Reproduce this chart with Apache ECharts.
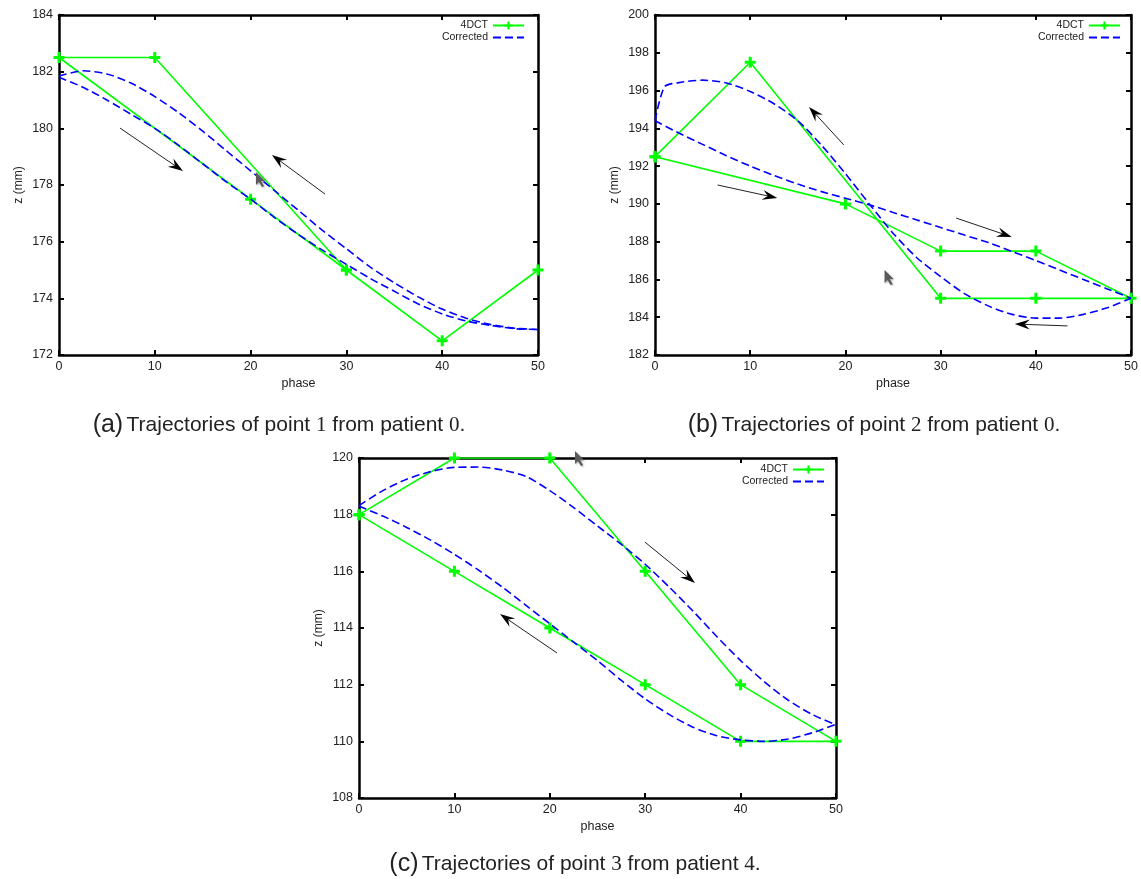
<!DOCTYPE html>
<html>
<head>
<meta charset="utf-8">
<script src="https://cdn.jsdelivr.net/npm/echarts@6/dist/echarts.min.js"></script>
<style>
  html, body { margin: 0; padding: 0; background: #fff; }
  #chart { width: 1141px; height: 879px; }
</style>
</head>
<body>
<div id="chart"></div>
<script>
// Phase samples used by the corrected (smooth) trajectories
const gridPhase = [0, 2.5, 5, 7.5, 10, 12.5, 15, 17.5, 20, 22.5, 25, 27.5, 30, 32.5, 35, 37.5, 40, 42.5, 45, 47.5, 50];

// (a) point 1, patient 0
const aScanPhase = [50, 40, 30, 20, 0, 10, 30];
const aScanZ     = [175, 172.5, 175, 177.5, 182.5, 182.5, 175];
const aCorrUpper = [181.85, 182.03, 181.92, 181.6, 181.12, 180.55, 179.9, 179.2, 178.5, 177.8, 177.1, 176.4, 175.75, 175.1, 174.55, 174.05, 173.62, 173.3, 173.08, 172.95, 172.9];
const aCorrLower = [181.8, 181.45, 181.0, 180.5, 180.0, 179.4, 178.75, 178.1, 177.5, 176.85, 176.25, 175.7, 175.2, 174.7, 174.25, 173.8, 173.45, 173.2, 173.05, 172.93, 172.9];

// (b) point 2, patient 0
const bScanPhase = [0, 10, 30, 40, 50, 40, 30, 20, 0];
const bScanZ     = [192.5, 197.5, 185, 185, 185, 187.5, 187.5, 190, 192.5];
const bUpperPhase = [0, 1, 2.5, 5, 7.5, 10, 12.5, 15, 17.5, 20, 22.5, 25, 27.5, 30, 32.5, 35, 37.5, 40, 42.5, 45, 47.5, 50];
const bCorrUpper = [194.4, 196.2, 196.42, 196.55, 196.4, 195.95, 195.3, 194.4, 193.1, 191.6, 190.0, 188.45, 187.15, 186.15, 185.25, 184.6, 184.15, 183.95, 183.95, 184.15, 184.5, 185.0];
const bCorrLower = [194.4, 193.75, 193.15, 192.55, 192.0, 191.5, 191.05, 190.65, 190.3, 189.95, 189.55, 189.15, 188.75, 188.35, 187.95, 187.48, 187.0, 186.5, 186.0, 185.5, 185.0];

// (c) point 3, patient 4
const cScanPhase = [0, 10, 20, 30, 40, 50, 40, 30, 20, 10, 0];
const cScanZ     = [118, 120, 120, 116, 112, 110, 110, 112, 114, 116, 118];
const cCorrUpper = [118.32, 118.85, 119.25, 119.52, 119.67, 119.68, 119.58, 119.35, 118.85, 118.25, 117.6, 116.95, 116.25, 115.45, 114.6, 113.7, 112.85, 112.1, 111.45, 110.95, 110.58];
const cCorrLower = [118.3, 117.95, 117.55, 117.1, 116.6, 116.05, 115.45, 114.8, 114.15, 113.5, 112.85, 112.15, 111.5, 110.95, 110.5, 110.2, 110.05, 110.0, 110.08, 110.3, 110.6];

// Axis ranges
const phaseRange = [0, 50];
const aZRange = [172, 184];
const bZRange = [182, 200];
const cZRange = [108, 120];

// Direction-of-motion arrows, [phase, z] tail then head
const aArrows = [[[6.37, 180.01], [12.94, 178.49]], [[27.77, 177.68], [22.23, 179.06]]];
const bArrows = [[[19.83, 193.12], [16.18, 195.13]], [[6.58, 191.0], [12.84, 190.31]],
                 [[31.63, 189.25], [37.47, 188.25]], [[43.32, 183.54], [37.79, 183.64]]];
const cArrows = [[[29.98, 117.03], [35.22, 115.59]], [[20.75, 113.12], [14.78, 114.49]]];
// Pointer glyphs
const cursors = [[20.56, 178.46], [24.11, 186.5], [22.64, 120.25]];

const captions = [
  { key: 'a', point: '1', patient: '0', x: 279, y: 425 },
  { key: 'b', point: '2', patient: '0', x: 874, y: 425 },
  { key: 'c', point: '3', patient: '4', x: 575, y: 864 }
];

const FONT = 'Liberation Sans, Arial, Helvetica, sans-serif';
const GREEN = '#00ff00';
const BLUE = '#0000ff';
const plusSymbol = 'path://M4,0H7V4H11V7H7V11H4V7H0V4H4Z';

const grids = [
  { left: 59,  top: 15,  width: 479, height: 340 },
  { left: 655, top: 15,  width: 479, height: 340 },
  { left: 359, top: 458, width: 477, height: 340 }
];
const zRanges = [aZRange, bZRange, cZRange];

const zip = (xs, ys) => xs.map((x, i) => [x, ys[i]]);

const lineStyleAxis = { color: '#000', width: 2.5 };
const tickStyle = { show: true, inside: true, length: 5, lineStyle: { color: '#000', width: 2 } };

const xAxes = [], yAxes = [];
grids.forEach((g, gi) => {
  const base = {
    gridIndex: gi, type: 'value', min: phaseRange[0], max: phaseRange[1], interval: 10,
    axisLine: { show: true, onZero: false, lineStyle: lineStyleAxis },
    axisTick: tickStyle, splitLine: { show: false }
  };
  xAxes.push(Object.assign({}, base, {
    position: 'bottom',
    axisLabel: { color: '#222', fontSize: 12.5, fontFamily: FONT, margin: 5 },
    name: 'phase', nameLocation: 'middle', nameGap: 22,
    nameTextStyle: { color: '#222', fontSize: 12.5, fontFamily: FONT }
  }));
  xAxes.push(Object.assign({}, base, { position: 'top', axisLabel: { show: false } }));
  const ybase = {
    gridIndex: gi, type: 'value', min: zRanges[gi][0], max: zRanges[gi][1], interval: 2,
    axisLine: { show: true, onZero: false, lineStyle: lineStyleAxis },
    axisTick: tickStyle, splitLine: { show: false }
  };
  yAxes.push(Object.assign({}, ybase, {
    position: 'left',
    axisLabel: { color: '#222', fontSize: 12.5, fontFamily: FONT, margin: 6 },
    name: 'z (mm)', nameLocation: 'middle', nameGap: 34, nameRotate: 90,
    nameTextStyle: { color: '#222', fontSize: 12, fontFamily: FONT }
  }));
  yAxes.push(Object.assign({}, ybase, { position: 'right', axisLabel: { show: false } }));
});

function scanSeries(gi, xs, ys) {
  return {
    type: 'line', name: '4DCT', xAxisIndex: gi * 2, yAxisIndex: gi * 2,
    data: zip(xs, ys), symbol: plusSymbol, symbolSize: 11, showAllSymbol: true,
    itemStyle: { color: GREEN }, lineStyle: { color: GREEN, width: 1.6 },
    z: 2, animation: false, silent: true
  };
}
function corrSeries(gi, xs, ys) {
  return {
    type: 'line', name: 'Corrected', xAxisIndex: gi * 2, yAxisIndex: gi * 2,
    data: zip(xs, ys), symbol: 'none', smooth: 0.25,
    itemStyle: { color: BLUE }, lineStyle: { color: BLUE, width: 1.6, type: [8, 4] },
    z: 3, animation: false, silent: true
  };
}

const series = [
  scanSeries(0, aScanPhase, aScanZ),
  corrSeries(0, gridPhase, aCorrUpper),
  corrSeries(0, gridPhase, aCorrLower),
  scanSeries(1, bScanPhase, bScanZ),
  corrSeries(1, bUpperPhase, bCorrUpper),
  corrSeries(1, gridPhase, bCorrLower),
  scanSeries(2, cScanPhase, cScanZ),
  corrSeries(2, gridPhase, cCorrUpper),
  corrSeries(2, gridPhase, cCorrLower)
];

const legendPos = [{ left: 438, top: 20 }, { left: 1034, top: 20 }, { left: 738, top: 464 }];
const legends = legendPos.map(p => ({
  data: ['4DCT', { name: 'Corrected', itemStyle: { opacity: 0 } }],
  orient: 'vertical', left: p.left, top: p.top,
  align: 'right', itemWidth: 31, itemHeight: 10, itemGap: 1, padding: 0,
  selectedMode: false,
  textStyle: { color: '#222', fontSize: 10.5, fontFamily: FONT, width: 50, align: 'right', lineHeight: 10, padding: 0 }
}));

const option = {
  backgroundColor: '#fff',
  animation: false,
  grid: grids,
  xAxis: xAxes,
  yAxis: yAxes,
  legend: legends,
  series: series
};

const chart = echarts.init(document.getElementById('chart'));
chart.setOption(option);

// Annotations: arrows, pointer glyphs and subfigure captions
const gfx = [];
function addArrow(gi, tail, head) {
  const p0 = chart.convertToPixel({ seriesIndex: gi * 3 }, tail);
  const p1 = chart.convertToPixel({ seriesIndex: gi * 3 }, head);
  const dx = p1[0] - p0[0], dy = p1[1] - p0[1];
  const len = Math.sqrt(dx * dx + dy * dy);
  const ux = dx / len, uy = dy / len, nx = -uy, ny = ux;
  const L = 15, W = 5;
  const bx = p1[0] - L * ux, by = p1[1] - L * uy;
  const kx = p1[0] - 0.65 * L * ux, ky = p1[1] - 0.65 * L * uy;
  gfx.push({ type: 'line', silent: true, z: 10,
    shape: { x1: p0[0], y1: p0[1], x2: kx, y2: ky },
    style: { stroke: '#222', lineWidth: 1 } });
  gfx.push({ type: 'polygon', silent: true, z: 10,
    shape: { points: [[p1[0], p1[1]], [bx + W * nx, by + W * ny], [kx, ky], [bx - W * nx, by - W * ny]] },
    style: { fill: '#000' } });
}
aArrows.forEach(a => addArrow(0, a[0], a[1]));
bArrows.forEach(a => addArrow(1, a[0], a[1]));
cArrows.forEach(a => addArrow(2, a[0], a[1]));

cursors.forEach((c, gi) => {
  const p = chart.convertToPixel({ seriesIndex: gi * 3 }, c);
  const pts = [[0, 0], [0, 13], [3, 10], [6, 15], [8, 14], [5, 9], [9, 9]].map(q => [p[0] + q[0], p[1] + q[1]]);
  gfx.push({ type: 'polygon', silent: true, z: 11, shape: { points: pts },
    style: { fill: '#5a5a5a', shadowBlur: 2, shadowColor: 'rgba(0,0,0,0.35)', shadowOffsetX: 1, shadowOffsetY: 1 } });
});

captions.forEach(c => {
  gfx.push({
    type: 'text', silent: true, x: c.x, y: c.y,
    style: {
      text: '{p|(' + c.key + ')} {t|Trajectories of point }{m|' + c.point + '}{t| from patient }{m|' + c.patient + '}{t|.}',
      align: 'center', verticalAlign: 'middle', fill: '#222',
      rich: {
        p: { fontSize: 25, fontFamily: FONT, fill: '#222' },
        t: { fontSize: 21, fontFamily: FONT, fill: '#222' },
        m: { fontSize: 21, fontFamily: 'Liberation Serif, DejaVu Serif, serif', fill: '#222' }
      }
    }
  });
});

chart.setOption({ graphic: gfx });
</script>
</body>
</html>
